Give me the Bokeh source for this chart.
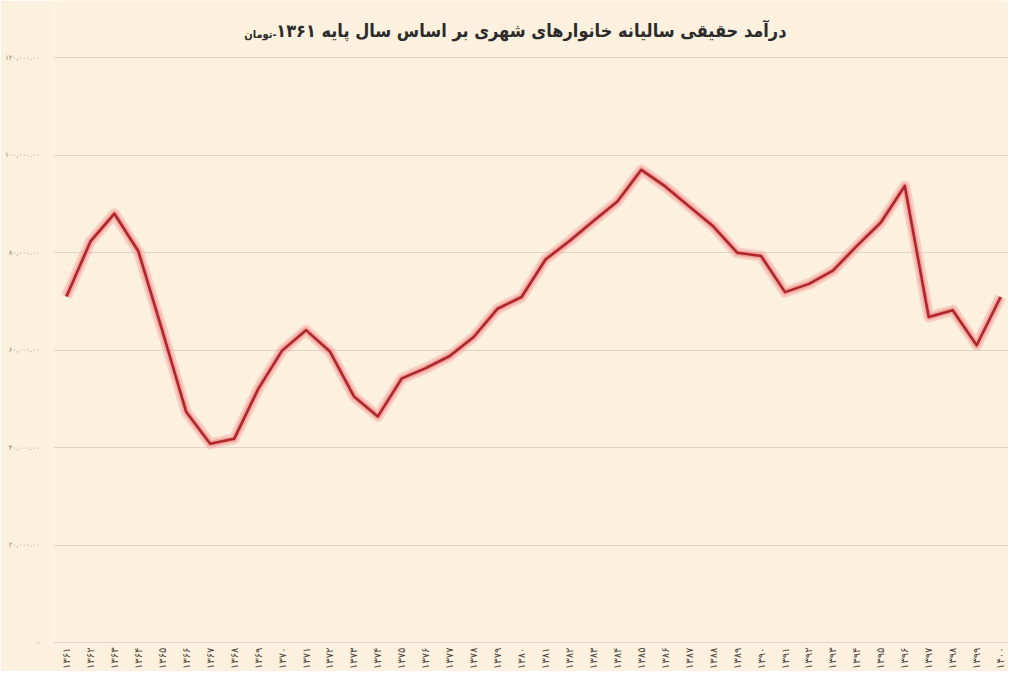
from bokeh.plotting import figure
from bokeh.models import Range1d, Label, FixedTicker, ColumnDataSource
from bokeh.embed import file_html
from bokeh.resources import INLINE
import math

years = list(range(1361, 1401))
year_labels = ["۱۳۶۱", "۱۳۶۲", "۱۳۶۳", "۱۳۶۴", "۱۳۶۵", "۱۳۶۶", "۱۳۶۷", "۱۳۶۸", "۱۳۶۹", "۱۳۷۰",
               "۱۳۷۱", "۱۳۷۲", "۱۳۷۳", "۱۳۷۴", "۱۳۷۵", "۱۳۷۶", "۱۳۷۷", "۱۳۷۸", "۱۳۷۹", "۱۳۸۰",
               "۱۳۸۱", "۱۳۸۲", "۱۳۸۳", "۱۳۸۴", "۱۳۸۵", "۱۳۸۶", "۱۳۸۷", "۱۳۸۸", "۱۳۸۹", "۱۳۹۰",
               "۱۳۹۱", "۱۳۹۲", "۱۳۹۳", "۱۳۹۴", "۱۳۹۵", "۱۳۹۶", "۱۳۹۷", "۱۳۹۸", "۱۳۹۹", "۱۴۰۰"]
income = [71000, 82300, 88000, 80300, 64000, 47300, 40800, 41800, 52000, 59900,
          64100, 59700, 50500, 46400, 54200, 56300, 58800, 62700, 68500, 70900,
          78600, 82400, 86500, 90500, 97000, 93600, 89500, 85400, 80000, 79300,
          71900, 73600, 76300, 81400, 86200, 93700, 66800, 68200, 61000, 70900]
y_ticks = [0, 20000, 40000, 60000, 80000, 100000, 120000]
y_tick_labels = ["-", "۲۰,۰۰۰.۰۰", "۴۰,۰۰۰.۰۰", "۶۰,۰۰۰.۰۰", "۸۰,۰۰۰.۰۰", "۱۰۰,۰۰۰.۰۰", "۱۲۰,۰۰۰.۰۰"]
title_main = "درآمد حقیقی سالیانه خانوارهای شهری بر اساس سال پایه ۱۳۶۱"
title_unit = "\u200f-تومان"

BG = "#FBF1DE"
FONT = "DejaVu Sans"
TFONT = "DejaVu Sans Condensed"

src = ColumnDataSource(dict(x=years, y=income))

p = figure(width=1008, height=671, output_backend="svg", toolbar_location=None,
           x_range=Range1d(1360.457, 1400.33), y_range=Range1d(-205, 131750),
           min_border_left=53, min_border_right=0, min_border_top=0, min_border_bottom=24)
p.background_fill_color = BG
p.border_fill_color = BG
p.outline_line_color = None

p.xgrid.grid_line_color = None
p.ygrid.grid_line_color = "#E0D5C3"
p.ygrid.grid_line_width = 1

p.yaxis.ticker = FixedTicker(ticks=y_ticks)
p.yaxis.major_label_overrides = {t: l for t, l in zip(y_ticks, y_tick_labels)}
p.yaxis.axis_line_color = None
p.yaxis.major_tick_line_color = None
p.yaxis.minor_tick_line_color = None
p.yaxis.major_label_text_font = FONT
p.yaxis.major_label_text_font_size = "7px"
p.yaxis.major_label_text_color = "#8A8275"
p.yaxis.major_label_standoff = 8

p.xaxis.ticker = FixedTicker(ticks=years)
p.xaxis.major_label_overrides = {y: l for y, l in zip(years, year_labels)}
p.xaxis.major_label_orientation = math.pi / 2
p.xaxis.axis_line_color = None
p.xaxis.major_tick_line_color = None
p.xaxis.minor_tick_line_color = None
p.xaxis.major_tick_out = 0
p.xaxis.major_tick_in = 0
p.xaxis.major_label_text_font = FONT
p.xaxis.major_label_text_font_size = "10px"
p.xaxis.major_label_text_color = "#4E4840"
p.xaxis.major_label_standoff = 4

# glow + core line
p.line("x", "y", source=src, line_color="#F3A3A0", line_width=11, line_alpha=0.45, line_join="round")
p.line("x", "y", source=src, line_color="#EE8A86", line_width=6, line_alpha=0.6, line_join="round")
p.line("x", "y", source=src, line_color="#AE252B", line_width=2.6, line_join="round")

p.add_layout(Label(x=1391.06, y=125500, text=title_main, text_align="right", text_baseline="middle",
                   text_font=TFONT, text_font_style="bold", text_font_size="18px", text_color="#2B2B2B"))
p.add_layout(Label(x=1369.77, y=124700, text=title_unit, text_align="right", text_baseline="middle",
                   text_font=TFONT, text_font_style="bold", text_font_size="11px", text_color="#2B2B2B"))

open("out.html", "w").write(file_html(p, INLINE))
